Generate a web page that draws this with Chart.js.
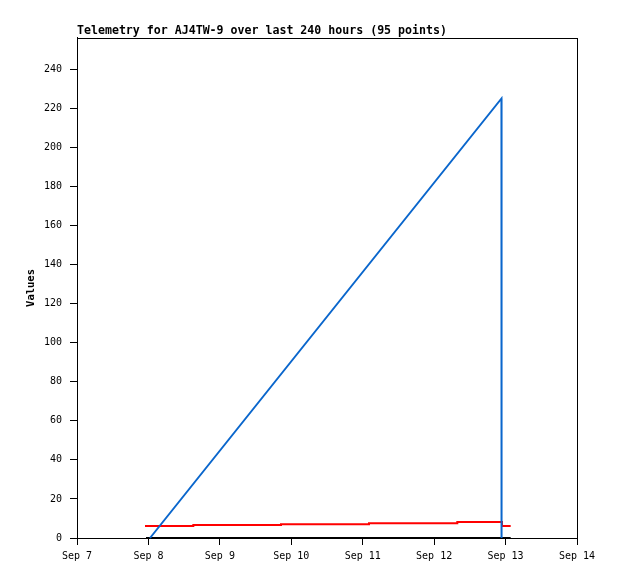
<!DOCTYPE html>
<html>
<head>
<meta charset="utf-8">
<script src="https://cdn.jsdelivr.net/npm/chart.js@4"></script>
<style>
  html, body { margin: 0; padding: 0; background: #fff; }
  #wrap { width: 618px; height: 579px; }
</style>
</head>
<body>
<div id="wrap"><canvas id="chart"></canvas></div>
<script>
// values
const blueTimes = ['Sep 8 00:32', 'Sep 12 22:37', 'Sep 12 22:39'];
const blueValues = [0, 225, 0];
const redTimes = ['Sep 7 22:51', 'Sep 8 15:05', 'Sep 9 20:32', 'Sep 11 02:06', 'Sep 12 07:47', 'Sep 12 22:48', 'Sep 13 01:43'];
const redValues = [6.2, 6.6, 7.1, 7.5, 8.2, 6.2, 6.2];
const blackTimes = ['Sep 7 23:11', 'Sep 13 01:43'];
const blackValues = [0, 0];
const xTickLabels = ['Sep 7', 'Sep 8', 'Sep 9', 'Sep 10', 'Sep 11', 'Sep 12', 'Sep 13', 'Sep 14'];
const yTicks = [0, 20, 40, 60, 80, 100, 120, 140, 160, 180, 200, 220, 240];

// hours since Sep 7 00:00
function toHours(s) {
    const p = s.split(' ');
    const hm = p[2].split(':');
    return (parseInt(p[1]) - 7) * 24 + parseInt(hm[0]) + parseInt(hm[1]) / 60;
}
function points(times, values) {
    return times.map((t, i) => ({ x: toHours(t), y: values[i] }));
}

const frame = {
    id: 'frame',
    beforeDatasetsDraw(chart) {
        const a = chart.chartArea, ctx = chart.ctx;
        ctx.save();
        ctx.strokeStyle = '#000';
        ctx.lineWidth = 1;
        ctx.strokeRect(Math.round(a.left) + 0.5, Math.round(a.top) + 0.5,
            Math.round(a.right - a.left), Math.round(a.bottom - a.top));
        ctx.restore();
    }
};

const mono = "'DejaVu Sans Mono', monospace";

new Chart(document.getElementById('chart'), {
    type: 'line',
    data: {
        datasets: [
            { label: 'Channel 1', data: points(blueTimes, blueValues), borderColor: '#0a66cc', borderWidth: 2, pointRadius: 0, tension: 0, clip: 4 },
            { label: 'Channel 2', data: points(redTimes, redValues), borderColor: '#ff0000', borderWidth: 2, pointRadius: 0, stepped: 'before', clip: 4 },
            { label: 'Channel 3', data: points(blackTimes, blackValues), borderColor: '#000000', borderWidth: 2, pointRadius: 0, clip: 4 }
        ]
    },
    options: {
        responsive: true,
        maintainAspectRatio: false,
        animation: false,
        layout: { padding: { top: 0, right: 41, bottom: 0, left: 0 } },
        plugins: {
            legend: { display: false },
            tooltip: { enabled: false },
            title: {
                display: true,
                text: 'Telemetry for AJ4TW-9 over last 240 hours (95 points)',
                align: 'start',
                fullSize: false,
                color: '#000',
                font: { family: mono, size: 11.6, weight: 'bold', lineHeight: 1.2 },
                padding: { top: 24, bottom: 0 }
            }
        },
        scales: {
            x: {
                type: 'linear',
                min: 0,
                max: 168,
                afterFit(s) { s.height = 41; },
                afterBuildTicks(s) { s.ticks = xTickLabels.map((l, i) => ({ value: i * 24 })); },
                ticks: {
                    color: '#000',
                    padding: 5,
                    maxRotation: 0,
                    font: { family: mono, size: 10 },
                    callback: (v, i) => xTickLabels[i]
                },
                grid: { drawOnChartArea: false, drawTicks: true, tickLength: 7, color: '#000' },
                border: { display: true, color: '#000' }
            },
            y: {
                min: 0,
                max: 256,
                afterFit(s) { s.width = 77; },
                afterBuildTicks(s) { s.ticks = yTicks.map(v => ({ value: v })); },
                ticks: {
                    color: '#000',
                    padding: 8,
                    font: { family: mono, size: 10 }
                },
                grid: { drawOnChartArea: false, drawTicks: true, tickLength: 7, color: '#000' },
                border: { display: true, color: '#000' },
                title: {
                    display: true,
                    text: 'Values',
                    color: '#000',
                    font: { family: mono, size: 10.5, weight: 'bold', lineHeight: 1.2 },
                    padding: { top: 25, bottom: 0 }
                }
            }
        }
    },
    plugins: [frame]
});
</script>
</body>
</html>
